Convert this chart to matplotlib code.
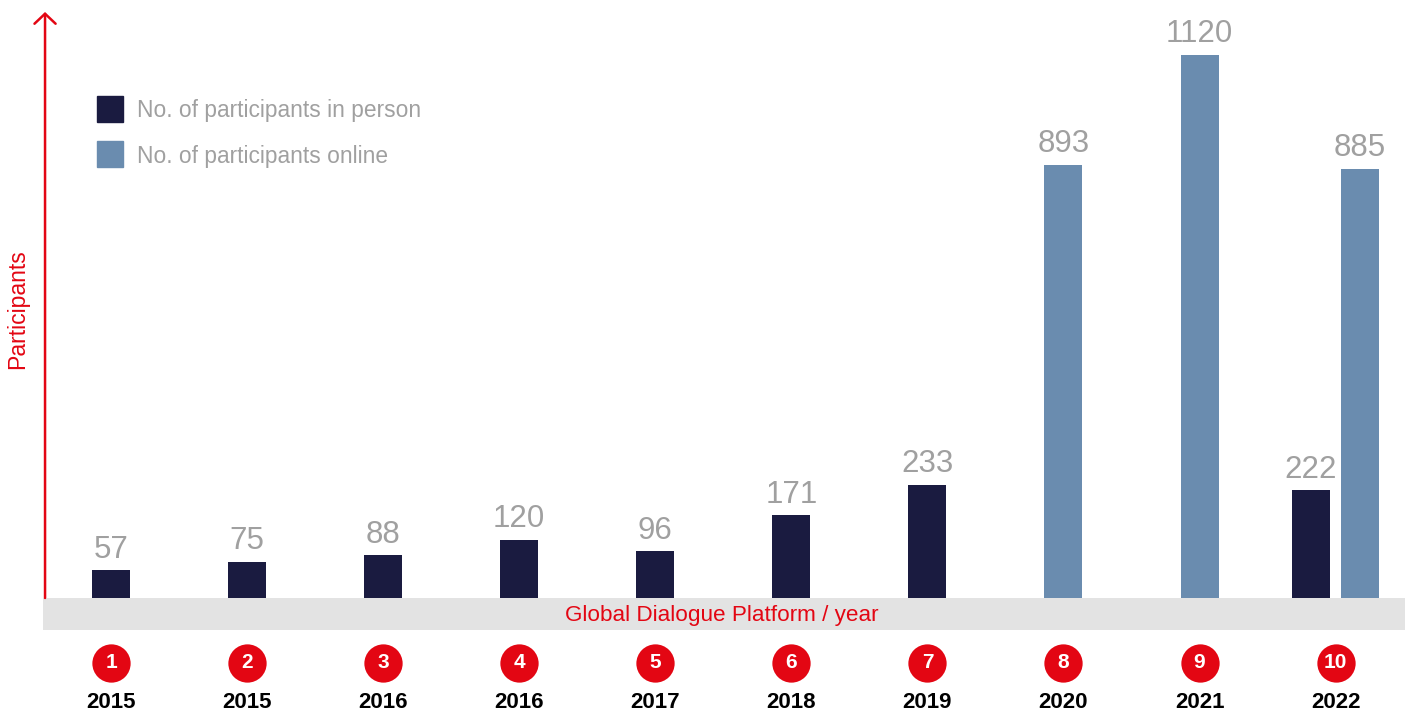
import matplotlib
matplotlib.use("Agg")
import matplotlib.pyplot as plt
import numpy as np

# ---- data ----
editions = ["1", "2", "3", "4", "5", "6", "7", "8", "9", "10"]
years = ["2015", "2015", "2016", "2016", "2017", "2018", "2019", "2020", "2021", "2022"]
in_person = [57, 75, 88, 120, 96, 171, 233, None, None, 222]
online = [None, None, None, None, None, None, None, 893, 1120, 885]
legend_labels = ["No. of participants in person", "No. of participants online"]
band_label = "Global Dialogue Platform / year"
y_label = "Participants"

# ---- style ----
W, H = 1410, 713
NAVY = "#1a1b40"
BLUE = "#6a8caf"
RED = "#e30613"
BAND = "#e3e3e3"
LABEL_GRAY = "#a0a0a0"
FONT = "Liberation Sans"

plt.rcParams["font.family"] = [FONT, "DejaVu Sans"]

def fx(px):
    return px / W

def fy(py):
    return 1 - py / H

fig = plt.figure(figsize=(W / 100, H / 100), dpi=100)
ax = fig.add_axes([fx(43), fy(630), fx(1405) - fx(43), fy(12) - fy(630)])

band_units = 66
ax.set_xlim(-0.5, 9.51)
ax.set_ylim(-band_units, 1208)
ax.axis("off")

bw = 0.279
off = 0.18
x = np.arange(len(editions))
for i in range(len(editions)):
    p, o = in_person[i], online[i]
    both = p is not None and o is not None
    if p is not None:
        xp = x[i] - off if both else x[i]
        ax.bar(xp, p, width=bw, color=NAVY, zorder=2)
        ax.annotate(str(p), (xp, p), xytext=(0, 9), textcoords="offset points",
                    ha="center", va="baseline", fontsize=22.5, color=LABEL_GRAY)
    if o is not None:
        xo = x[i] + off if both else x[i]
        ax.bar(xo, o, width=bw, color=BLUE, zorder=2)
        ax.annotate(str(o), (xo, o), xytext=(0, 9), textcoords="offset points",
                    ha="center", va="baseline", fontsize=22.5, color=LABEL_GRAY)

# grey band
ax.axhspan(-band_units, 0, color=BAND, zorder=1, lw=0)
ax.text(np.mean(ax.get_xlim()) - 0.02, -band_units / 2 - 4, band_label, ha="center", va="center",
        fontsize=16.2, color=RED, zorder=3)

# arrow axis
ax_x = -0.485
ax.annotate("", xy=(ax_x, 1208), xytext=(ax_x, 0),
            arrowprops=dict(arrowstyle="->,head_length=0.36,head_width=0.38",
                            color=RED, lw=1.8, mutation_scale=20,
                            shrinkA=0, shrinkB=0), zorder=4)

fig.text(fx(18), fy(309), y_label, rotation=90, ha="center", va="center",
         fontsize=16.6, color=RED)

# legend (manual)
from matplotlib.patches import Rectangle
for k, (lab, col) in enumerate(zip(legend_labels, [NAVY, BLUE])):
    top = 96 + 45 * k
    fig.patches.append(Rectangle((fx(97), fy(top + 26)), fx(26), 26 / H,
                                 transform=fig.transFigure, color=col))
    fig.text(fx(137), fy(top + 15), lab, ha="left", va="center",
             fontsize=16.4, color=LABEL_GRAY)

# numbered circles and years
import matplotlib.transforms as mtransforms
trans = mtransforms.blended_transform_factory(ax.transData, fig.transFigure)
ax.scatter(x, [fy(663)] * len(x), s=760, color=RED, transform=trans,
           clip_on=False, zorder=5, linewidths=0)
for i in range(len(editions)):
    ax.text(x[i], fy(663), editions[i], transform=trans, ha="center", va="center",
            fontsize=15, color="white", fontweight="bold", zorder=6, clip_on=False)
    ax.text(x[i], fy(703), years[i], transform=trans, ha="center", va="center",
            fontsize=16, color="black", fontweight="bold", zorder=6, clip_on=False)

fig.savefig("out.png", dpi=100)
